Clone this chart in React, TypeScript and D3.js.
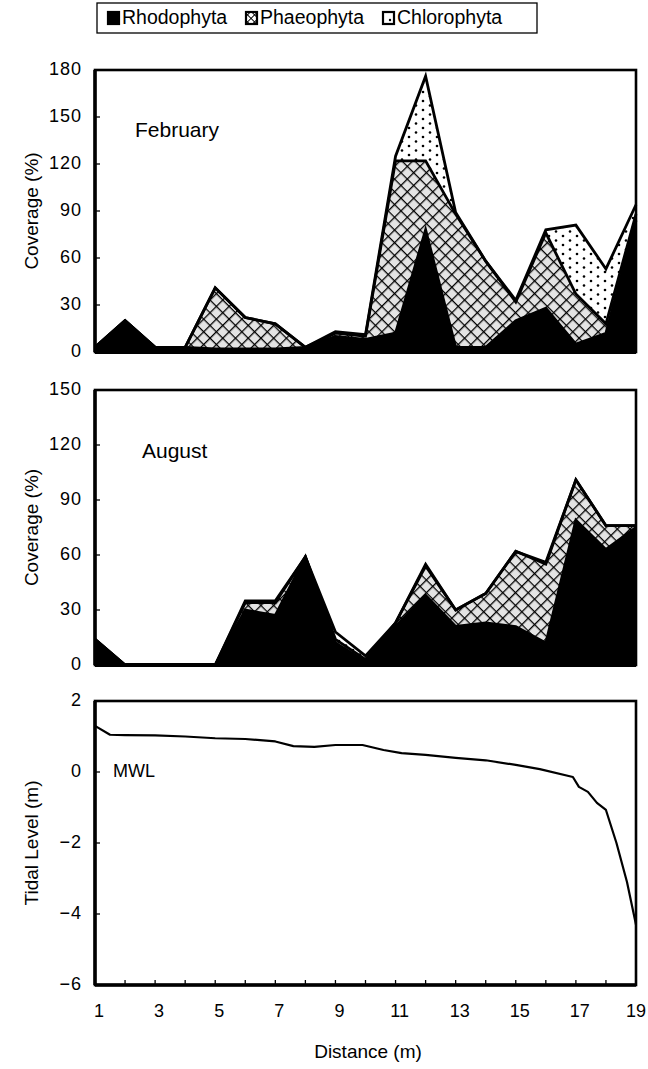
import React from "react";
import * as d3 from "d3";

// sampling stations along the transect (m)
const distance = [1, 2, 3, 4, 5, 6, 7, 8, 9, 10, 11, 12, 13, 14, 15, 16, 17, 18, 19];

// February coverage (%) per group
const febRhodophyta = [3, 20, 3, 3, 2, 2, 2, 3, 10, 8, 12, 78, 3, 3, 20, 28, 5, 12, 84];
const febPhaeophyta = [0, 0, 0, 0, 39, 20, 16, 0, 2, 2, 110, 44, 85, 55, 12, 48, 32, 6, 4];
const febChlorophyta = [0, 0, 0, 0, 0, 0, 0, 0, 1, 1, 3, 54, 1, 0, 1, 2, 44, 35, 6];

// August coverage (%) per group
const augRhodophyta = [14, 0, 0, 0, 0, 30, 27, 59, 12, 2, 21, 38, 21, 23, 21, 12, 79, 63, 75];
const augPhaeophyta = [0, 0, 0, 0, 0, 4, 7, 0, 2, 1, 2, 16, 9, 16, 41, 43, 22, 13, 1];
const augChlorophyta = [0, 0, 0, 0, 0, 1, 1, 0, 4, 2, 0, 1, 0, 0, 0, 1, 0, 0, 0];

// tidal level profile
const tideDistance = [1, 1.5, 2, 3, 4, 5, 6, 7, 7.6, 8.3, 9, 9.9, 10.6, 11.2, 12, 13, 14, 15, 15.8, 16.9, 17.1, 17.4, 17.7, 18, 18.35, 18.7, 19];
const tideLevel = [1.3, 1.05, 1.04, 1.03, 1.0, 0.95, 0.93, 0.86, 0.73, 0.71, 0.76, 0.76, 0.62, 0.53, 0.48, 0.4, 0.33, 0.2, 0.08, -0.14, -0.42, -0.56, -0.87, -1.07, -2.0, -3.1, -4.3];

const groups = ["Rhodophyta", "Phaeophyta", "Chlorophyta"];
const febTicks = [0, 30, 60, 90, 120, 150, 180];
const augTicks = [0, 30, 60, 90, 120, 150];
const tideTicks = [-6, -4, -2, 0, 2];
const distanceLabels = [1, 3, 5, 7, 9, 11, 13, 15, 17, 19];

const font = "'Liberation Sans', Arial, Helvetica, sans-serif";
const left = 95;
const right = 636;

const fills: Record<string, string> = {
  Rhodophyta: "#000",
  Phaeophyta: "url(#hatch)",
  Chlorophyta: "url(#dots)",
};

const x = d3.scaleLinear().domain([1, 19]).range([left, right]);

function makeRows(r: number[], p: number[], c: number[]) {
  return distance.map((d, i) => ({ distance: d, Rhodophyta: r[i], Phaeophyta: p[i], Chlorophyta: c[i] }));
}

function CoveragePanel({ rows, top, bottom, max, ticks, title, titleX, titleY }: any) {
  const y = d3.scaleLinear().domain([0, max]).range([bottom, top]);
  const series = d3.stack().keys(groups)(rows);

  const area = d3.area<any>()
    .x((d) => x(d.data.distance))
    .y0((d) => y(d[0]))
    .y1((d) => y(d[1]));
  const topLine = d3.line<any>()
    .x((d) => x(d.data.distance))
    .y((d) => y(d[1]));

  return (
    <g>
      {series.map((s) => (
        <path key={s.key} d={area(s as any) || ""} fill={fills[s.key]} />
      ))}
      {series.map((s) => (
        <path key={"l" + s.key} d={topLine(s as any) || ""} fill="none" stroke="#000" strokeWidth={2.8} strokeLinejoin="miter" />
      ))}
      <rect x={left} y={top} width={right - left} height={bottom - top} fill="none" stroke="#000" strokeWidth={2.6} />
      <line x1={left} x2={left} y1={top} y2={bottom} stroke="#000" strokeWidth={3.5} />
      <line x1={left} x2={right} y1={bottom} y2={bottom} stroke="#000" strokeWidth={4} />
      {ticks.map((t: number) => (
        <g key={t}>
          <line x1={left} x2={left + 5} y1={y(t)} y2={y(t)} stroke="#000" strokeWidth={1.3} />
          <text x={82} y={y(t)} textAnchor="end" dominantBaseline="middle" fontSize={18} letterSpacing={1}>
            {t}
          </text>
        </g>
      ))}
      <text x={33} y={(top + bottom) / 2} transform={`rotate(-90, 33, ${(top + bottom) / 2})`} textAnchor="middle" dominantBaseline="middle" fontSize={19}>
        Coverage (%)
      </text>
      <text x={titleX} y={titleY} fontSize={21}>{title}</text>
    </g>
  );
}

function TidePanel({ top, bottom }: any) {
  const y = d3.scaleLinear().domain([-6, 2]).range([bottom, top]);
  const pts = tideDistance.map((d, i) => [d, tideLevel[i]] as [number, number]);
  const line = d3.line<[number, number]>()
    .x((d) => x(d[0]))
    .y((d) => y(d[1]));
  const fmt = d3.format("d");

  return (
    <g>
      <path d={line(pts) || ""} fill="none" stroke="#000" strokeWidth={2.2} strokeLinejoin="round" />
      <rect x={left} y={top} width={right - left} height={bottom - top} fill="none" stroke="#000" strokeWidth={2.6} />
      <line x1={left} x2={left} y1={top} y2={bottom} stroke="#000" strokeWidth={3.5} />
      <line x1={left} x2={right} y1={bottom} y2={bottom} stroke="#000" strokeWidth={3.5} />
      {tideTicks.map((t) => (
        <g key={t}>
          <line x1={left} x2={left + 5} y1={y(t)} y2={y(t)} stroke="#000" strokeWidth={1.3} />
          <text x={82} y={y(t)} textAnchor="end" dominantBaseline="middle" fontSize={18} letterSpacing={1}>
            {fmt(t)}
          </text>
        </g>
      ))}
      {distance.slice(1, -1).map((d) => (
        <line key={d} x1={x(d)} x2={x(d)} y1={bottom} y2={bottom - 5} stroke="#000" strokeWidth={1.3} />
      ))}
      {distanceLabels.map((d) => (
        <text key={d} x={x(d) + (d === 19 ? 0 : 4)} y={bottom + 27} textAnchor="middle" dominantBaseline="middle" fontSize={18}>
          {d}
        </text>
      ))}
      <text x={113} y={y(0)} dominantBaseline="middle" fontSize={18}>MWL</text>
      <text x={33} y={(top + bottom) / 2} transform={`rotate(-90, 33, ${(top + bottom) / 2})`} textAnchor="middle" dominantBaseline="middle" fontSize={19}>
        Tidal Level (m)
      </text>
      <text x={368} y={bottom + 68} textAnchor="middle" dominantBaseline="middle" fontSize={19}>
        Distance (m)
      </text>
    </g>
  );
}

function Legend() {
  const items = [
    { key: "Rhodophyta", x: 107 },
    { key: "Phaeophyta", x: 245 },
    { key: "Chlorophyta", x: 382 },
  ];
  return (
    <g>
      <rect x={97} y={3} width={440} height={30} fill="#fff" stroke="#000" strokeWidth={1.3} />
      {items.map((it) => (
        <g key={it.key}>
          <rect
            x={it.x + 1}
            y={12}
            width={11}
            height={12}
            fill={it.key === "Rhodophyta" ? "#000" : it.key === "Phaeophyta" ? "url(#legendHatch)" : "#fff"}
            stroke="#000"
            strokeWidth={2.2}
          />
          {it.key === "Chlorophyta" && <circle cx={it.x + 8} cy={20} r={1.2} fill="#000" />}
          <text x={it.x + 15} y={18.5} dominantBaseline="middle" fontSize={19.5}>
            {it.key}
          </text>
        </g>
      ))}
    </g>
  );
}

export default function App() {
  const feb = makeRows(febRhodophyta, febPhaeophyta, febChlorophyta);
  const aug = makeRows(augRhodophyta, augPhaeophyta, augChlorophyta);

  return (
    <svg
      width={648}
      height={1069}
      style={{ position: "absolute", left: 0, top: 0, background: "#fff" }}
      fontFamily={font}
    >
      <defs>
        <pattern id="hatch" width={9} height={9} patternUnits="userSpaceOnUse" patternTransform="rotate(45)">
          <rect width={9} height={9} fill="#e4e4e4" />
          <path d="M0 0H9M0 0V9" stroke="#000" strokeWidth={2.6} />
        </pattern>
        <pattern id="legendHatch" width={5} height={5} patternUnits="userSpaceOnUse" patternTransform="rotate(45)">
          <rect width={5} height={5} fill="#fff" />
          <path d="M0 0H5M0 0V5" stroke="#000" strokeWidth={2} />
        </pattern>
        <pattern id="dots" width={14} height={9} patternUnits="userSpaceOnUse">
          <rect width={14} height={9} fill="#fff" />
          <circle cx={3} cy={2} r={1.3} fill="#000" />
          <circle cx={10} cy={6.5} r={1.3} fill="#000" />
        </pattern>
      </defs>
      <Legend />
      <CoveragePanel rows={feb} top={70} bottom={352} max={180} ticks={febTicks} title="February" titleX={135} titleY={137} />
      <CoveragePanel rows={aug} top={390} bottom={665} max={150} ticks={augTicks} title="August" titleX={142} titleY={458} />
      <TidePanel top={701} bottom={985} />
    </svg>
  );
}
